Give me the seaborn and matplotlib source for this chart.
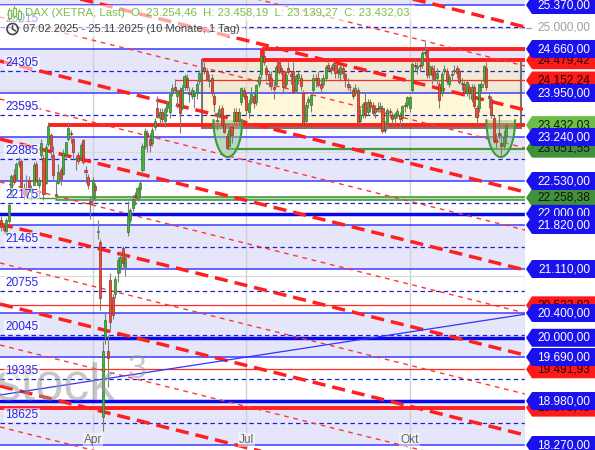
import numpy as np
import matplotlib
matplotlib.use('Agg')
import matplotlib.pyplot as plt
import matplotlib.patches as mpatches
import matplotlib.transforms as mtransforms
import seaborn as sns

# daily candles, DAX Xetra 07.02.2025 - 25.11.2025 (one entry per trading day)
opens = [21900, 21800, 21690, 21890, 22300, 22620, 22560, 22800, 22850, 22420, 22380, 22540, 22350, 22470, 22800, 22460,
         22950, 22900, 22500, 23120, 23280, 22950, 22300, 22500, 22700, 22650, 22950, 23200, 23300, 23200, 22880, 22950, 22900, 23190, 22700, 22600, 22200,
         22250, 22450, 21700, 21550, 18720, 20010, 19780, 20930, 20660, 20700, 21050, 21150, 21450, 21150, 21700, 21900, 22100, 22300, 22250, 22400,
         22700, 23100, 23300, 23200, 23150, 23400, 23700, 23550, 23650, 23500, 23700, 23650, 23950, 24050, 23900, 24000, 23700, 24050, 24200, 23950, 23900,
         23900, 23950, 24150, 24300, 24350, 24300, 24150, 24200, 23900, 23500, 23600, 23700, 23450, 23250, 23100, 23400, 23500, 23650, 23500, 23800, 24000,
         23900, 23650, 23800, 23900, 23800, 24100, 24250, 24550, 24350, 24250, 24200, 24050, 24100, 24450, 24350, 24300, 24100, 24350, 24250, 24300, 24000, 24200, 24200,
         23950, 23500, 23800, 23750, 24000, 24200, 24200, 24100, 24100, 24200, 24400, 24350, 24350, 24400, 24300, 24250, 24350, 24250, 24100, 24050, 24000,
         23950, 24000, 23500, 23600, 23800, 23650, 23800, 23750, 23650, 23700, 23700, 23700, 23350, 23450, 23650, 23600, 23550, 23600, 23600, 23550, 23750, 23750,
         23700, 24000, 24400, 24350, 24400, 24400, 24600, 24650, 24250, 24350, 24300, 24200, 24100, 23950, 24300, 24300, 24100, 24250, 24300, 24350, 24300, 24100, 24100,
         23950, 24050, 23850, 24050, 23700, 23700, 24050, 24150, 24350, 23900, 23850, 23550, 23200, 23300, 23150, 23100, 23254]
highs = [21960, 21840, 21930, 22170, 22640, 22720, 22830, 22930, 22880, 22500, 22620, 22610, 22470, 22830, 22850, 22600,
         23200, 22950, 23130, 23476, 23300, 23100, 22550, 22800, 22750, 23050, 23160, 23476, 23350, 23250, 22950, 23000, 23150, 23200, 22780, 22650, 22290,
         22600, 22500, 21900, 21600, 19950, 20400, 20050, 21050, 20700, 21000, 21300, 21400, 21480, 21350, 22200, 22100, 22300, 22350, 22450, 22550,
         23150, 23380, 23350, 23300, 23400, 23550, 23900, 23700, 23700, 23720, 23820, 23950, 24100, 24180, 24000, 24050, 24080, 24250, 24250, 24050, 24050,
         24000, 24150, 24320, 24479, 24450, 24350, 24250, 24250, 23950, 23650, 23750, 23750, 23550, 23300, 23450, 23450, 23700, 23700, 23700, 24050, 24050,
         23950, 23850, 24050, 23950, 24100, 24250, 24560, 24640, 24400, 24300, 24300, 24150, 24400, 24500, 24400, 24320, 24300, 24450, 24300, 24450, 24250, 24300, 24250,
         24000, 23800, 23900, 23950, 24250, 24250, 24300, 24200, 24250, 24400, 24450, 24400, 24450, 24420, 24350, 24400, 24400, 24280, 24200, 24100, 24050,
         24100, 24050, 23700, 23800, 23950, 23850, 23850, 23800, 23750, 23800, 23800, 23750, 23500, 23700, 23700, 23650, 23650, 23700, 23650, 23750, 23800, 23900,
         23900, 24450, 24500, 24450, 24450, 24620, 24771, 24700, 24450, 24400, 24400, 24350, 24150, 24300, 24400, 24350, 24250, 24300, 24400, 24400, 24350, 24200, 24150,
         24150, 24100, 24100, 24100, 23750, 24100, 24150, 24400, 24450, 23950, 23900, 23600, 23300, 23600, 23300, 23350, 23458]
lows = [21730, 21680, 21650, 21850, 22280, 22480, 22530, 22760, 22380, 22230, 22270, 22350, 22230, 22460, 22520, 22250,
        22900, 22230, 22480, 23100, 22900, 22560, 22220, 22480, 22470, 22630, 22900, 23180, 23150, 22900, 22700, 22800, 22880, 22800, 22500, 22400, 21920,
        22200, 22200, 21600, 20450, 18489, 19900, 19200, 20150, 20300, 20650, 20900, 21050, 21150, 21000, 21650, 21850, 22050, 22150, 22200, 22250,
        22650, 23050, 23000, 23000, 23100, 23350, 23550, 23450, 23450, 23400, 23650, 23550, 23900, 23950, 23700, 23300, 23680, 24000, 24000, 23800, 23850,
        23700, 23850, 24100, 24250, 24250, 24150, 24050, 23900, 23650, 23350, 23550, 23400, 23300, 23052, 23080, 23150, 23450, 23450, 23450, 23750, 23850,
        23600, 23550, 23780, 23700, 23750, 24050, 24200, 24400, 24150, 24050, 24000, 23850, 24050, 24250, 24250, 23950, 24050, 24250, 24100, 23950, 23950, 24100, 24000,
        23400, 23450, 23700, 23650, 23950, 24050, 24050, 23950, 24050, 24150, 24300, 24250, 24300, 24200, 24200, 24150, 24200, 24050, 24000, 23950, 23850,
        23900, 23450, 23450, 23550, 23550, 23600, 23650, 23600, 23550, 23650, 23650, 23300, 23300, 23400, 23550, 23450, 23450, 23550, 23400, 23500, 23650, 23700,
        23650, 23950, 24300, 24250, 24300, 24350, 24550, 24200, 24200, 24100, 24150, 24100, 23700, 23900, 24250, 24100, 24050, 24150, 24250, 24200, 24100, 24000, 23900,
        23900, 23850, 23800, 23700, 23450, 23650, 23950, 24100, 24000, 23700, 23550, 23150, 23050, 23200, 22950, 23050, 23139]
closes = [21787, 21733, 21900, 22148, 22613, 22513, 22798, 22844, 22433, 22314, 22287, 22426, 22410, 22794, 22550, 22551,
          23147, 22327, 23081, 23419, 23009, 22621, 22328, 22676, 22568, 22987, 23155, 23381, 23288, 22999, 22892, 22852, 23109, 22840, 22679, 22461, 22163,
          22539, 22390, 21717, 20642, 19790, 20280, 19670, 20250, 20374, 20954, 21254, 21311, 21206, 21294, 21962, 22064, 22242, 22271, 22425, 22497,
          23087, 23344, 23249, 23116, 23352, 23499, 23566, 23638, 23527, 23695, 23767, 23934, 24036, 23999, 23999, 23630, 24028, 24226, 24039, 23933, 23997,
          23930, 24091, 24276, 24324, 24304, 24174, 24162, 23948, 23771, 23516, 23699, 23435, 23317, 23057, 23350, 23269, 23641, 23498, 23649, 24033, 23909,
          23673, 23790, 23934, 23787, 24073, 24206, 24549, 24456, 24255, 24161, 24060, 24009, 24371, 24290, 24308, 24042, 24240, 24296, 24217, 23970, 24218, 24262, 24065,
          23426, 23757, 23846, 23924, 24193, 24163, 24081, 24025, 24186, 24377, 24359, 24315, 24423, 24277, 24293, 24363, 24273, 24152, 24046, 24039, 23902,
          24037, 23487, 23595, 23770, 23597, 23807, 23718, 23633, 23703, 23698, 23748, 23329, 23359, 23675, 23639, 23527, 23611, 23666, 23534, 23739, 23745, 23881,
          23880, 24423, 24378, 24378, 24385, 24597, 24611, 24241, 24387, 24237, 24181, 24272, 23830, 24259, 24330, 24151, 24207, 24239, 24309, 24278, 24124, 24119, 23958,
          24132, 23949, 24050, 23734, 23569, 24088, 24088, 24381, 24041, 23877, 23590, 23180, 23162, 23278, 23091, 23239, 23432]

month_ticks = [37, 99, 165]
month_labels = ['Apr', 'Jul', 'Okt']

# horizontal levels
solid_blue = [25370, 24660, 23950, 23240, 22530, 21820, 21110, 20400, 19690, 18980, 18270]
dashed_blue = [25015, 24305, 23595, 22885, 22175, 21465, 20755, 20045, 19335, 18625]
thick_blue = [22000, 20000, 18980]
band_lo = [25370, 23950, 22530, 21110, 19690, 18270]
band_hi = [25460, 24660, 23240, 21820, 20400, 18980]
red_thick = [24660, 24479.42, 23432.03, 18873.40]
red_thick_from = [105.3, 81, 19, -1]
red_thin = [24152.24, 20523.82, 19491.93]
red_thin_from = [70, -1, -1]
green_levels = [23051.55, 22258.38]
green_from = [91, 10]

# falling trend channel lines (value at left edge, value at right edge)
trend_thick_start = [27129, 25790, 24466, 23208, 21836, 20545, 19222]
trend_thick_end = [25015, 23676, 22353, 21094, 19722, 18432, 17108]
trend_thin_start = [26498, 25176, 23853, 22514, 21207, 19884, 18561]
trend_thin_end = [24386, 23063, 21739, 20400, 19093, 17770, 16447]
rising_line = [19077, 20380]

# consolidation box and rounded bottoms
box_x = [81, 210]
box_y = [23390, 24479.42]
cup_centers = [91.5, 201.8]
cup_top, cup_bottom, cup_halfwidth = 23514, 22917, 5.8

# right-hand price tags
tag_red = [(24479.42, '24.479,42'), (24152.24, '24.152,24'), (20523.82, '20.523,82'),
           (19491.93, '19.491,93'), (18873.40, '18.873,40')]
tag_green = [(23432.03, '23.432,03', '#6cbf46'), (23051.55, '23.051,55', '#3f913c'),
             (22258.38, '22.258,38', '#3f913c')]
tag_blue = [(25370, '25.370,00'), (24660, '24.660,00'), (23950, '23.950,00'), (23240, '23.240,00'),
            (22530, '22.530,00'), (22000, '22.000,00'), (21820, '21.820,00'), (21110, '21.110,00'),
            (20400, '20.400,00'), (20000, '20.000,00'), (19690, '19.690,00'), (18980, '18.980,00'),
            (18270, '18.270,00')]

sns.set_theme(style='white')
plt.rcParams['font.family'] = ['Liberation Sans', 'DejaVu Sans']
plt.rcParams['lines.scale_dashes'] = False

W, H = 595, 450
PW = 525
fig = plt.figure(figsize=(W / 100, H / 100), dpi=100)
ax = fig.add_axes([0, 0, PW / W, 1])
x0, x1 = -0.57, 211.6
y0, y1 = 18189.5, 25450.7
ax.set_xlim(x0, x1)
ax.set_ylim(y0, y1)
ax.axis('off')
pxh = (y1 - y0) / H
pxw = (x1 - x0) / PW


def ypix(py):
    return y1 - py * pxh


def xpix(px):
    return x0 + px * pxw


# background bands
for lo, hi in zip(band_lo, band_hi):
    ax.axhspan(lo, hi, color='#e6e6fa', lw=0, zorder=0)
for t in month_ticks:
    ax.axvline(t, color='#d0d0d0', lw=1, zorder=1)
for g in range(19000, 26000, 1000):
    ax.axhline(g, color='#dadada', lw=0.8, zorder=1)

# box
ax.add_patch(mpatches.Rectangle((box_x[0], box_y[0]), box_x[1] - box_x[0], box_y[1] - box_y[0],
                                facecolor='#ffef9a', alpha=0.38, lw=0, zorder=2))
ax.add_patch(mpatches.Rectangle((box_x[0], box_y[0]), box_x[1] - box_x[0], box_y[1] - box_y[0],
                                fill=False, edgecolor='#555555', alpha=0.8, lw=1.5, zorder=4))

# blue levels
for p in solid_blue:
    ax.axhline(p, color='#3a3aff', lw=1.1, zorder=3)
for p in dashed_blue:
    ax.axhline(p, color='#1f1fd6', lw=0.9, dashes=(3.2, 2.4), zorder=3)
for p in thick_blue:
    ax.axhline(p, color='#0a0ae8', lw=2.5, zorder=3)

# red / green levels
for p, s in zip(red_thick, red_thick_from):
    ax.hlines(p, s, x1, color='#ff1f1f', lw=2.8, zorder=4)
ax.vlines(red_thick_from[0], red_thick[1], red_thick[0], color='#ff1f1f', lw=2.8, zorder=4)
for p, s in zip(red_thin, red_thin_from):
    ax.hlines(p, s, x1, color='#ff2a2a', lw=0.9, zorder=4)
ax.hlines(green_levels[0], green_from[0], x1, color='#3f9a3c', lw=1.6, zorder=4)
ax.hlines(green_levels[1], green_from[1], x1, color='#3f9a3c', lw=1.0, zorder=4)
ax.hlines(green_levels[1], 21.7, x1, color='#4a9a45', lw=3.4, zorder=4)
ax.hlines(green_levels[1], 21.7, x1, color='#b6dfae', lw=1.0, zorder=4)

# trend lines
for s, e in zip(trend_thick_start, trend_thick_end):
    ax.plot([x0, x1], [s, e], color='#ff1f1f', lw=2.5, dashes=(9.5, 5), zorder=4)
for s, e in zip(trend_thin_start, trend_thin_end):
    ax.plot([x0, x1], [s, e], color='#ff3636', lw=1.0, dashes=(3.4, 3.4), zorder=4)
ax.plot([x0, x1], rising_line, color='#3434ff', lw=0.9, zorder=4)

# rounded bottoms
ang = np.linspace(np.pi, 2 * np.pi, 60)
for cx in cup_centers:
    xs = cx + cup_halfwidth * np.cos(ang)
    ys = cup_top + (cup_top - cup_bottom) * np.sin(ang)
    ax.fill(xs, ys, color='#8fc98a', alpha=0.5, lw=0, zorder=4)
    ax.plot(xs, ys, color='#3f9a3c', lw=1.5, zorder=5)

# candles
idx = np.arange(len(closes))
o = np.array(opens, float)
c = np.array(closes, float)
up = c >= o
ax.vlines(idx, lows, highs, color='#7d7d7d', lw=0.8, zorder=6)
body_h = np.maximum(np.abs(c - o), 14)
ax.bar(idx[up], body_h[up], bottom=np.minimum(o, c)[up], width=0.85,
       color='#45b03a', edgecolor='#2e7a2a', lw=0.5, zorder=7)
ax.bar(idx[~up], body_h[~up], bottom=np.minimum(o, c)[~up], width=0.85,
       color='#e3503a', edgecolor='#a32a1e', lw=0.5, zorder=7)

# watermark
ax.text(xpix(-4), ypix(400), 'stock', fontsize=37, color='#9a9a9a', alpha=0.55,
        va='baseline', ha='left', zorder=8)
ax.text(xpix(128), ypix(378), '3', fontsize=24, color='#9a9a9a', alpha=0.55,
        va='baseline', ha='left', zorder=8)

# left level labels
btr = mtransforms.blended_transform_factory(ax.transAxes, ax.transData)
for p in dashed_blue:
    ax.annotate(str(p), xy=(0, p), xycoords=btr, xytext=(5, 5), textcoords='offset pixels',
                color='#2626ee', fontsize=8.6, ha='left', va='baseline', zorder=9,
                bbox=dict(boxstyle='square,pad=0.12', fc='white', ec='none', alpha=0.55))

# month labels
for t, lab in zip(month_ticks, month_labels):
    ax.text(t, ypix(440), lab, ha='center', va='center', fontsize=8.6, color='#666666', zorder=9,
            bbox=dict(boxstyle='square,pad=0.1', fc='white', ec='none', alpha=0.5))

# right-hand tags
ftr = mtransforms.blended_transform_factory(fig.transFigure, ax.transData)
hh = 9 * pxh


def tag(p, text, fc, tc, z):
    xs = np.array([526, 532, 595, 595, 532]) / W
    ys = [p, p + hh, p + hh, p - hh, p - hh]
    ax.add_patch(mpatches.Polygon(list(zip(xs, ys)), closed=True, fc=fc, ec='none',
                                  transform=ftr, clip_on=False, zorder=z))
    ax.text(590 / W, p, text, transform=ftr, ha='right', va='center', fontsize=8.6,
            color=tc, clip_on=False, zorder=z + 0.5)


ax.plot([526 / W, 531 / W], [25000, 25000], transform=ftr, color='#aaaaaa', lw=1, clip_on=False)
ax.text(590 / W, 25000, '25.000,00', transform=ftr, ha='right', va='center', fontsize=8.6,
        color='#a0a0a0', clip_on=False)
z = 20
for p, t in tag_red:
    tag(p, t, '#ff1a1a', '#220000', z)
    z += 1
for p, t, col in tag_green:
    tag(p, t, col, '#101010', z)
    z += 1
for p, t in tag_blue:
    tag(p, t, '#1a12ee', 'white', z)
    z += 1
ax.axvline(x1, color='#d5d5d5', lw=1, zorder=3)

# header
for yy, ww in [(5, 415), (21, 245)]:
    fig.patches.append(mpatches.Rectangle((0, 1 - (yy + 16) / H), ww / W, 16 / H, transform=fig.transFigure,
                                          fc='white', ec='none', alpha=0.6, zorder=30))
fig.text(25 / W, 1 - 13.5 / H, 'DAX (XETRA, Last)  O: 23.254,46  H: 23.458,19  L: 23.139,27  C: 23.432,03',
         color='#79bf48', fontsize=8.2, va='center', ha='left', zorder=31)
fig.text(23 / W, 1 - 29.5 / H, '07.02.2025 - 25.11.2025 (10 Monate, 1 Tag)',
         color='#444444', fontsize=8.0, va='center', ha='left', zorder=31)
# candle icon
for cxp, ya, yb in [(9, 10, 18), (14, 8, 16), (19, 11, 19)]:
    fig.lines.append(plt.Line2D([cxp / W, cxp / W], [1 - (ya - 2) / H, 1 - (yb + 2) / H],
                                transform=fig.transFigure, color='#79bf48', lw=0.8, zorder=32))
    fig.patches.append(mpatches.Rectangle(((cxp - 1.5) / W, 1 - yb / H), 3 / W, (yb - ya) / H,
                                          transform=fig.transFigure, fc='white', ec='#79bf48', lw=0.9, zorder=32))
# clock icon
fig.patches.append(mpatches.Ellipse((12.5 / W, 1 - 29 / H), 11 / W, 11 / H, transform=fig.transFigure,
                                    fill=False, ec='#444444', lw=1.2, zorder=32))
fig.lines.append(plt.Line2D([12.5 / W, 12.5 / W, 15.5 / W], [1 - 25.5 / H, 1 - 29 / H, 1 - 31 / H],
                            transform=fig.transFigure, color='#444444', lw=1.1, zorder=32))

fig.savefig('out.png', dpi=100)
